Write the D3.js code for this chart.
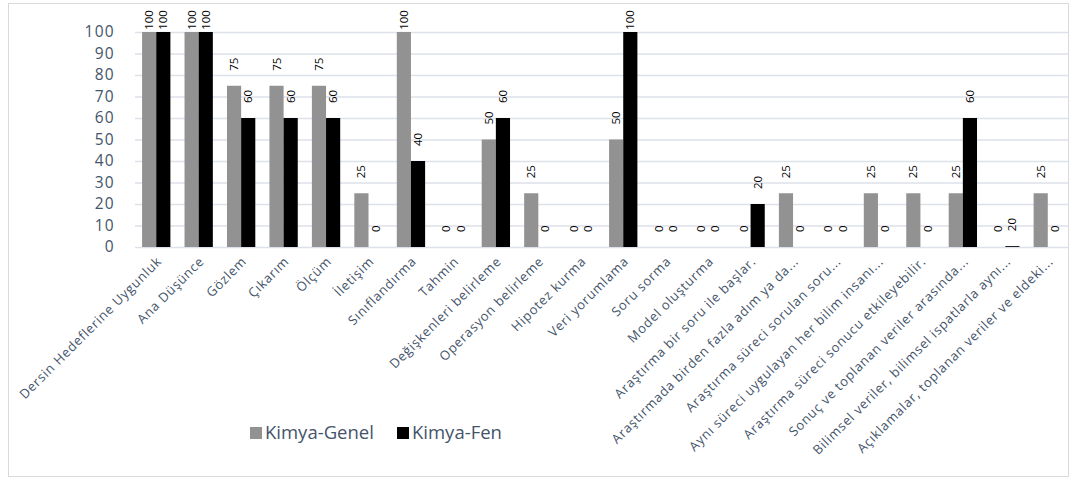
<!DOCTYPE html>
<html>
<head>
<meta charset="utf-8">
<script src="https://cdn.jsdelivr.net/npm/d3@7"></script>
<style>
  html, body { margin: 0; padding: 0; background: #fff; }
  svg { display: block; font-family: "Open Sans", "Noto Sans", sans-serif; }
</style>
</head>
<body>
<div id="chart"></div>
<script>
// Bar chart: Kimya-Genel vs Kimya-Fen, 22 categories, rotated labels.
const categories = [
  "Dersin Hedeflerine Uygunluk", "Ana Düşünce", "Gözlem", "Çıkarım", "Ölçüm",
  "İletişim", "Sınıflandırma", "Tahmin", "Değişkenleri belirleme",
  "Operasyon belirleme", "Hipotez kurma", "Veri yorumlama", "Soru sorma",
  "Model oluşturma", "Araştırma bir soru ile başlar.",
  "Araştırmada birden fazla adım ya da...", "Araştırma süreci sorulan soru...",
  "Aynı süreci uygulayan her bilim insanı...", "Araştırma süreci sonucu etkileyebilir.",
  "Sonuç ve toplanan veriler arasında...", "Bilimsel veriler, bilimsel ispatlarla aynı...",
  "Açıklamalar, toplanan veriler ve eldeki..."
];
const genelValues = [100, 100, 75, 75, 75, 25, 100, 0, 50, 25, 0, 50, 0, 0, 0, 25, 0, 25, 25, 25, 0, 25];
const fenValues   = [100, 100, 60, 60, 60, 0, 40, 0, 60, 0, 0, 100, 0, 0, 20, 0, 0, 0, 0, 60, 0.4, 0];
// the chart shows a typed label "20" on a near-zero bar
const fenLabels   = fenValues.map((v, i) => i === 20 ? "20" : String(v));
const genelLabels = genelValues.map(String);
const yTicks = [0, 10, 20, 30, 40, 50, 60, 70, 80, 90, 100];
const seriesNames = ["Kimya-Genel", "Kimya-Fen"];
const seriesColors = ["#929292", "#000000"];

const W = 1073, H = 479;
const plot = { left: 135, right: 1069, top: 32, bottom: 247 };
const TEXT = "#44546a";

const svg = d3.select("#chart").append("svg")
  .attr("width", W).attr("height", H);

// chart border
svg.append("rect")
  .attr("x", 8.5).attr("y", 3.5).attr("width", 1060).attr("height", 473)
  .attr("fill", "#fff").attr("stroke", "#d9d9d9");

const x = d3.scaleBand().domain(categories).range([plot.left, plot.right]).paddingInner(0.333).paddingOuter(0.1665);
const xs = d3.scaleBand().domain(seriesNames).range([0, x.bandwidth()]);
const y = d3.scaleLinear().domain([0, 100]).range([plot.bottom, plot.top]);

// gridlines
svg.append("g").selectAll("line").data(yTicks).join("line")
  .attr("x1", plot.left).attr("x2", plot.right)
  .attr("y1", d => y(d) + 0.5).attr("y2", d => y(d) + 0.5)
  .attr("stroke", "#dde1ea").attr("stroke-width", 1.5);

// y axis labels
const yAxis = d3.axisLeft(y).tickValues(yTicks).tickSize(0).tickPadding(0);
const gy = svg.append("g").attr("transform", `translate(${plot.left - 20},0)`).call(yAxis);
gy.select(".domain").remove();
gy.selectAll("text").attr("fill", TEXT)
  .style("font-size", "15.5px")
  .style("letter-spacing", "1.3px")
  .style("font-family", "'Open Sans', sans-serif");

// bars
const rows = categories.map((c, i) => ({ c, i }));
const series = [
  { name: seriesNames[0], vals: genelValues, labels: genelLabels, color: seriesColors[0] },
  { name: seriesNames[1], vals: fenValues, labels: fenLabels, color: seriesColors[1] }
];

series.forEach(s => {
  const g = svg.append("g");
  g.selectAll("rect").data(rows).join("rect")
    .attr("x", d => x(d.c) + xs(s.name))
    .attr("width", xs.bandwidth())
    .attr("y", d => y(s.vals[d.i]))
    .attr("height", d => y(0) - y(s.vals[d.i]))
    .attr("fill", s.color);

  g.selectAll("text").data(rows).join("text")
    .attr("transform", d => {
      const cx = x(d.c) + xs(s.name) + xs.bandwidth() / 2;
      const len = s.labels[d.i].length * 6.6;
      const base = Math.max(y(s.vals[d.i]) - 15, 10 + len);
      return `translate(${cx},${base}) rotate(-90)`;
    })
    .attr("dy", "0.35em")
    .attr("text-anchor", "start")
    .attr("fill", "#000")
    .style("font-size", "11.5px")
    .text(d => s.labels[d.i]);
});

// x axis labels
const xAxis = d3.axisBottom(x).tickSize(0).tickPadding(0);
const gx = svg.append("g").attr("transform", `translate(0,${plot.bottom})`).call(xAxis);
gx.select(".domain").remove();
gx.selectAll("text")
  .attr("fill", TEXT)
  .style("font-size", "13px")
  .style("letter-spacing", "0.75px")
  .style("font-family", "'Open Sans', sans-serif")
  .attr("text-anchor", "end")
  .attr("y", 0).attr("dy", "0.35em")
  .attr("transform", "translate(3,12) rotate(-45)");

// legend
const legend = svg.append("g").attr("transform", "translate(250,433)");
const items = [{ name: seriesNames[0], color: seriesColors[0], x: 0 }, { name: seriesNames[1], color: seriesColors[1], x: 147 }];
items.forEach(it => {
  legend.append("rect").attr("x", it.x).attr("y", -6).attr("width", 12).attr("height", 12).attr("fill", it.color);
  legend.append("text").attr("x", it.x + 15).attr("y", 0).attr("dy", "0.35em")
    .attr("fill", TEXT).style("font-size", "18.5px").text(it.name);
});
</script>
</body>
</html>
